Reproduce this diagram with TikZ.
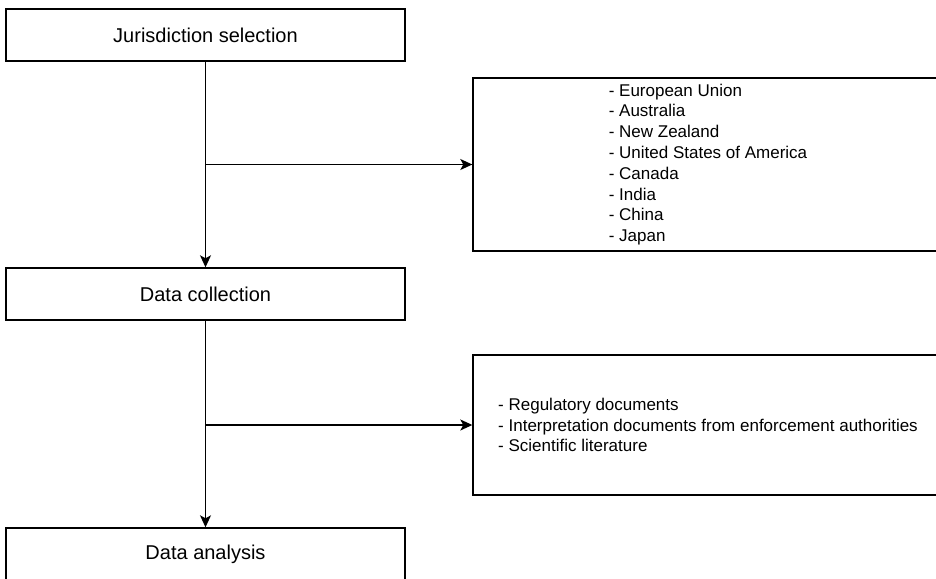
\documentclass[tikz,border=0pt]{standalone}
\usepackage{fontspec}
\setmainfont{Liberation Sans}
\usetikzlibrary{arrows.meta, positioning}

\begin{document}
\begin{tikzpicture}[x=1pt, y=1pt, line width=1.4pt,
    stage/.style = {draw, minimum width=399pt, minimum height=52pt, font=\fontsize{20}{24}\selectfont},
    list/.style = {draw, minimum width=470pt, align=left, font=\fontsize{17}{20.8}\selectfont},
    arr/.style = {-{Stealth[length=12pt, width=11pt, inset=3pt]}}]
    \clip (0,0) rectangle (936,-578);
    % main steps
    \node[stage] (J) at (205.5,-35) {Jurisdiction selection};
    \node[stage] (DC) at (205.5,-294) {Data collection};
    \node[stage] (DA) at (205.5,-554) {Data analysis};
    % side lists
    \node[list, minimum height=173pt] (L1) at (708,-164.5) {- European Union\\- Australia\\- New Zealand\\- United States of America\\- Canada\\- India\\- China\\- Japan};
    \node[list, minimum height=140pt] (L2) at (708,-425) {- Regulatory documents\\- Interpretation documents from enforcement authorities\\- Scientific literature};
    \coordinate (B1) at (J.south |- L1.west); \coordinate (B2) at (DC.south |- L2.west);
    \draw[arr] (J) -- (DC); \draw[arr] (B1) -- (L1);
    \draw[arr] (DC) -- (DA); \draw[arr] (B2) -- (L2);
\end{tikzpicture}
\end{document}
